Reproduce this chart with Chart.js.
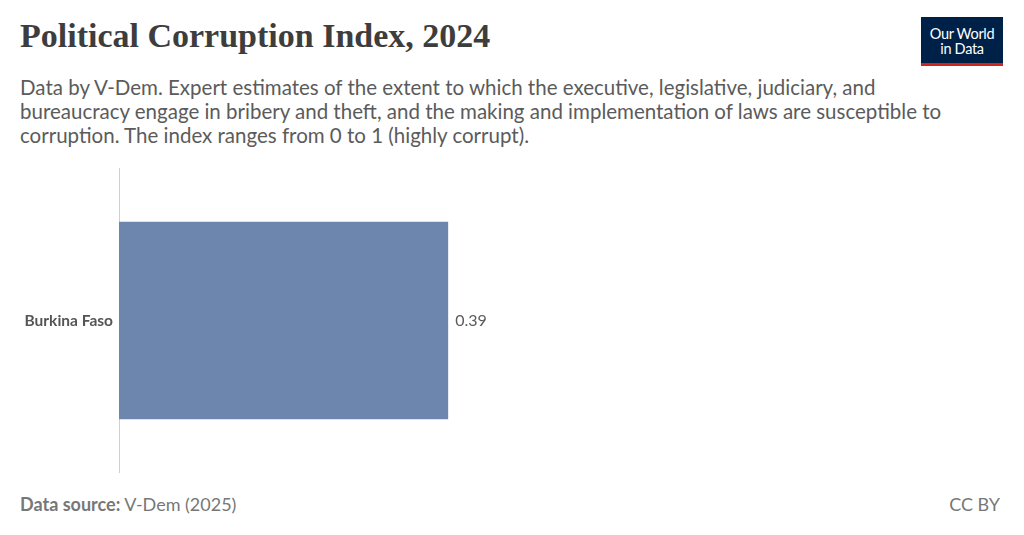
<!DOCTYPE html>
<html>
<head>
<meta charset="utf-8">
<script src="https://cdn.jsdelivr.net/npm/chart.js@4"></script>
<style>
  html, body { margin: 0; padding: 0; background: #fff; }
  body { width: 1024px; height: 535px; position: relative; overflow: hidden; font-family: Lato, "Noto Sans", sans-serif; }
  h1 { position: absolute; left: 20px; top: 17px; margin: 0; font-family: "Liberation Serif", "DejaVu Serif", serif; font-weight: 700; font-size: 34px; color: #3d3d3d; letter-spacing: 0px; }
  .sub { position: absolute; left: 20px; top: 75px; width: 960px; margin: 0; font-size: 20.5px; line-height: 24px; color: #5b5b5b; }
  .logo { position: absolute; left: 921px; top: 17px; width: 82px; height: 49px; background: #002147; border-bottom: 3px solid #ce261e; box-sizing: border-box; color: #fff; font-size: 14.5px; line-height: 15px; text-align: center; padding-top: 9px; letter-spacing: -0.3px; }
  .foot { position: absolute; top: 493px; font-size: 18px; color: #777; }
  .foot b { font-weight: 700; }
  #wrap { position: absolute; left: 0; top: 153px; width: 1024px; height: 335px; }
</style>
</head>
<body>
<h1>Political Corruption Index, 2024</h1>
<p class="sub">Data by V-Dem. Expert estimates of the extent to which the executive, legislative, judiciary, and bureaucracy engage in bribery and theft, and the making and implementation of laws are susceptible to corruption. The index ranges from 0 to 1 (highly corrupt).</p>
<div class="logo">Our World<br>in Data</div>
<div class="foot" style="left:20px"><b>Data source:</b> V-Dem (2025)</div>
<div class="foot" style="right:24px">CC BY</div>
<div id="wrap"><canvas id="chart"></canvas></div>
<script>
// 데이터
const countries = ['Burkina Faso'];
const corruption = [0.39];

// 막대 끝에 값 표시
const valueLabels = {
  id: 'valueLabels',
  afterDatasetsDraw(chart) {
    const ctx = chart.ctx;
    const meta = chart.getDatasetMeta(0);
    ctx.save();
    ctx.font = '16px Lato, sans-serif';
    ctx.fillStyle = '#5b5b5b';
    ctx.textAlign = 'left';
    ctx.textBaseline = 'middle';
    meta.data.forEach((bar, i) => {
      ctx.fillText(corruption[i].toFixed(2), bar.x + 7, bar.y);
    });
    ctx.restore();
  }
};

new Chart(document.getElementById('chart'), {
  type: 'bar',
  data: {
    labels: countries,
    datasets: [{ data: corruption, backgroundColor: '#6d86ae', borderWidth: 0, barPercentage: 0.648, categoryPercentage: 1 }]
  },
  options: {
    indexAxis: 'y',
    responsive: true,
    maintainAspectRatio: false,
    animation: false,
    layout: { padding: { left: 0, right: 61, top: 0, bottom: 0 } },
    plugins: { legend: { display: false }, tooltip: { enabled: false } },
    scales: {
      x: { display: false, min: 0, max: 1 },
      y: {
        grid: { display: false, drawTicks: false },
        border: { display: true, color: '#d0d0d0', width: 1 },
        ticks: { color: '#555', font: { family: 'Lato', size: 15.5, weight: 'bold' }, padding: 6 },
        afterFit(scale) { scale.width = 119; }
      }
    }
  },
  plugins: [valueLabels]
});
</script>
</body>
</html>
